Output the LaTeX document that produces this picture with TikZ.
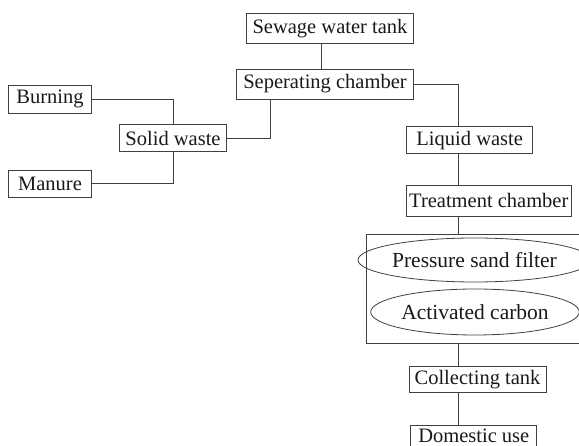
\documentclass[tikz,border=0pt]{standalone}
\usepackage{fontspec}
\setmainfont{Liberation Serif}
\usetikzlibrary{shapes.geometric}
\begin{document}
\begin{tikzpicture}[x=1pt,y=-1pt,
  every node/.style={font=\fontsize{20.5}{24}\selectfont, text=black!90, inner sep=0pt},
  boxn/.style={draw=black!75, line width=0.9pt, rectangle},
  elln/.style={draw=black!75, line width=0.8pt, ellipse, font=\fontsize{21.5}{25}\selectfont},
  link/.style={draw=black!75, line width=0.9pt}]
\useasboundingbox (0,0) rectangle (579,446);
\node[boxn, minimum width=167pt, minimum height=30pt] (sew) at (330,28.3) {Sewage water tank};
\node[boxn, minimum width=177pt, minimum height=30pt] (sep) at (325,84) {Seperating chamber};
\node[boxn, minimum width=83.4pt, minimum height=28.3pt] (burn) at (50,99.2) {Burning};
\node[boxn, minimum width=107.4pt, minimum height=26.7pt] (solid) at (173,138.3) {Solid waste};
\node[boxn, minimum width=83.4pt, minimum height=27.3pt] (man) at (50,183.7) {Manure};
\node[boxn, minimum width=126pt, minimum height=27.3pt] (liq) at (469.7,140.3) {Liquid waste};
\node[boxn, minimum width=165.7pt, minimum height=31pt] (treat) at (488.8,200.5) {Treatment chamber};
\node[boxn, minimum width=216pt, minimum height=109pt] (filt) at (474,289) {};
\node[elln, minimum width=193pt, minimum height=44pt] (psf) at (474.5,260) {Pressure sand filter};
\node[elln, minimum width=174pt, minimum height=46pt] (ac) at (475,312) {Activated carbon};
\node[boxn, minimum width=137pt, minimum height=26pt] (coll) at (477.5,379.6) {Collecting tank};
\node[minimum width=125.7pt, minimum height=20.5pt, anchor=north] (dom) at (473.8,425) {Domestic use};
\draw[link] (dom.south west) -- (dom.north west) -- (dom.north east) -- (dom.south east);
\coordinate (xa) at (321,0);
\coordinate (xb) at (270,0);
\coordinate (xs) at (458,0);
\draw[link] (sew.south -| xa) -- (sep.north -| xa);
\draw[link] (burn.east) -| (solid.north);
\draw[link] (man.east) -| (solid.south);
\draw[link] (solid.east) -| (sep.south -| xb);
\draw[link] (sep.east) -| (liq.north -| xs);
\draw[link] (liq.south -| xs) -- (treat.north -| xs);
\draw[link] (treat.south -| xs) -- (filt.north -| xs);
\draw[link] (filt.south -| xs) -- (coll.north -| xs);
\draw[link] (coll.south -| xs) -- (dom.north -| xs);
\end{tikzpicture}
\end{document}
